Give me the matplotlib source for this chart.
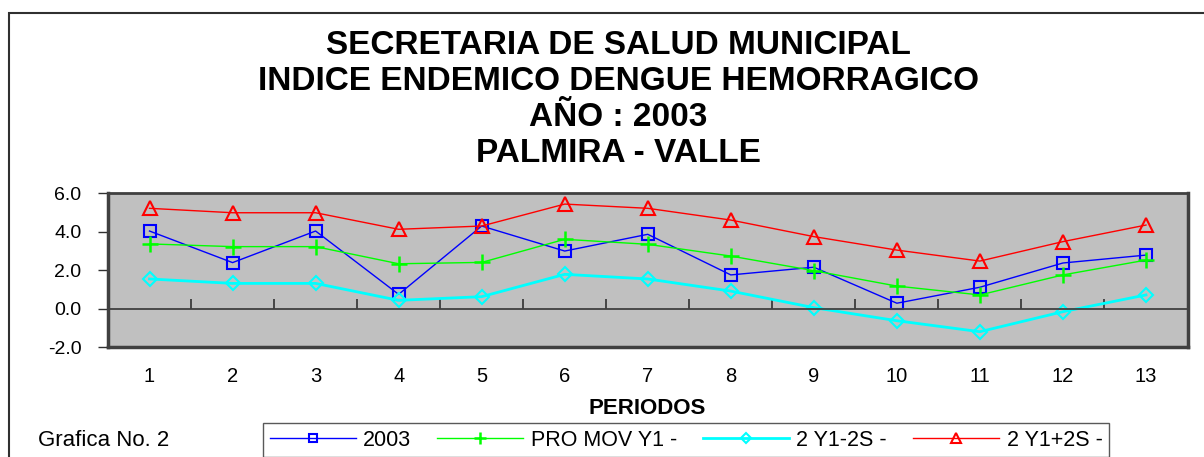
import numpy as np
import matplotlib
matplotlib.use("Agg")
import matplotlib.pyplot as plt
from matplotlib.patches import Rectangle

plt.rcParams['font.family'] = ['Liberation Sans', 'DejaVu Sans']

periods = list(range(1, 14))
period_labels = [str(p) for p in periods]
serie_2003 = [4.04, 2.40, 4.04, 0.75, 4.30, 3.00, 3.87, 1.76, 2.16, 0.29, 1.12, 2.38, 2.79]
pro_mov = [3.37, 3.23, 3.23, 2.34, 2.41, 3.61, 3.35, 2.74, 1.98, 1.18, 0.72, 1.76, 2.53]
y1_minus = [1.55, 1.32, 1.32, 0.44, 0.63, 1.79, 1.55, 0.92, 0.06, -0.62, -1.19, -0.15, 0.72]
y1_plus = [5.22, 4.99, 4.99, 4.13, 4.30, 5.44, 5.22, 4.61, 3.75, 3.05, 2.48, 3.49, 4.35]
yticks = [-2.0, 0.0, 2.0, 4.0, 6.0]
title_lines = ["SECRETARIA DE SALUD MUNICIPAL", "INDICE ENDEMICO DENGUE HEMORRAGICO",
               "AÑO : 2003", "PALMIRA - VALLE"]

W, H = 1204, 457
fig = plt.figure(figsize=(W / 100, H / 100), dpi=100)

# outer chart frame
fig.patches.append(Rectangle((9 / W, -0.1), 1.2, (H - 13) / H + 0.1, transform=fig.transFigure,
                             fill=False, edgecolor='#303030', linewidth=1.5))

ax = fig.add_axes([108 / W, (H - 347.3) / H, (1187.5 - 108) / W, 154 / H])
ax.set_facecolor('#C0C0C0')
x = np.arange(1, 14)
ax.plot(x, serie_2003, color='#0000FF', lw=1.0, marker='s', ms=8, mfc='none', mec='#0000FF', mew=1.5, label='2003')
ax.plot(x, pro_mov, color='#00FF00', lw=1.0, marker='+', ms=11, mew=1.8, label='PRO MOV Y1 -')
ax.plot(x, y1_minus, color='#00FFFF', lw=2.0, marker='D', ms=7, mfc='none', mec='#00FFFF', mew=1.5, label='2 Y1-2S -')
ax.plot(x, y1_plus, color='#FF0000', lw=1.0, marker='^', ms=10, mfc='none', mec='#FF0000', mew=1.5, label='2 Y1+2S -')

ax.set_xlim(0.5, 13.5)
ax.set_ylim(-2, 6)
ax.set_yticks(yticks)
ax.set_yticklabels([f"{v:.1f}" for v in yticks])
ax.tick_params(axis='y', direction='out', length=7, width=1, colors='#303030', labelcolor='black',
               labelsize=14, pad=12)

for s in ['left', 'top', 'right']:
    ax.spines[s].set_color('#404040')
ax.spines['left'].set_linewidth(2.5)
ax.spines['top'].set_linewidth(2)
ax.spines['right'].set_linewidth(2.5)
ax.spines['bottom'].set_position(('data', 0))
ax.spines['bottom'].set_color('#404040')
ax.spines['bottom'].set_linewidth(1.3)
ax.set_xticks(np.arange(1.5, 13.5, 1))
ax.tick_params(axis='x', direction='in', length=7, width=1.2, colors='#303030', labelbottom=False)

sec = ax.secondary_xaxis('bottom')
sec.set_xticks(x)
sec.set_xticklabels(period_labels)
sec.tick_params(length=0, pad=14, labelsize=14.5)
sec.spines['bottom'].set_color('#404040')
sec.spines['bottom'].set_linewidth(2.5)

for i, t in enumerate(title_lines):
    fig.text(618 / W, 1 - (46 + 36 * i) / H, t, ha='center', va='center', fontsize=24, fontweight='bold')

fig.text(647 / W, 1 - 408 / H, "PERIODOS", ha='center', va='center', fontsize=16, fontweight='bold')
fig.text(38 / W, 1 - 440 / H, "Grafica No. 2", ha='left', va='center', fontsize=16)

handles, labels = ax.get_legend_handles_labels()
leg = fig.legend(handles, labels, loc='center', bbox_to_anchor=(686 / W, 1 - 440 / H), ncol=4,
                 fontsize=15.5, frameon=True, fancybox=False, edgecolor='#303030', handlelength=4.0,
                 columnspacing=1.2, handletextpad=0.35, borderpad=0.3, borderaxespad=0.0,
                 markerscale=0.75)
leg.get_frame().set_linewidth(1.0)

fig.savefig('out.png', dpi=100)
